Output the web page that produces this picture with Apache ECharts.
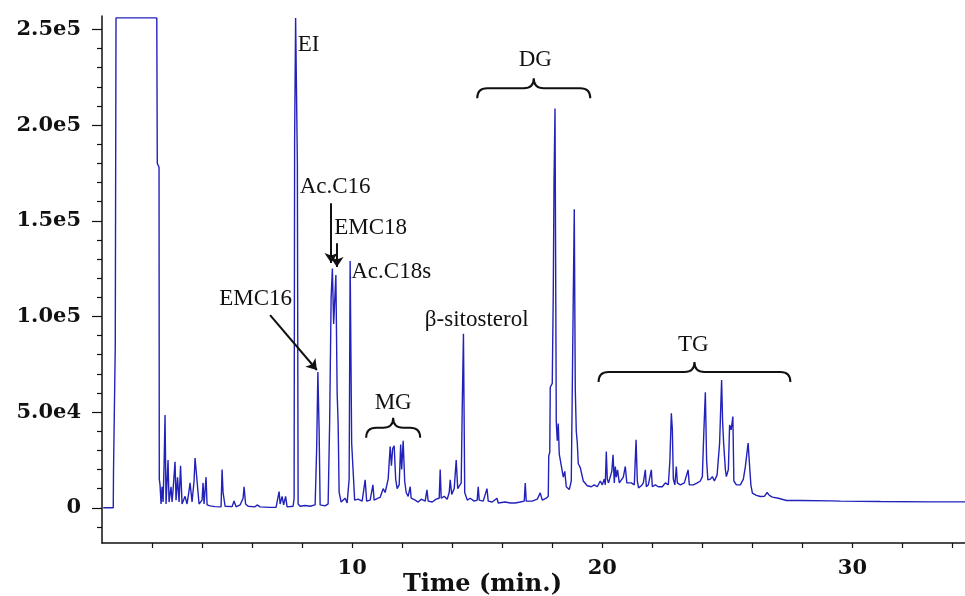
<!DOCTYPE html>
<html>
<head>
<meta charset="utf-8">
<script src="https://cdn.jsdelivr.net/npm/echarts@6/dist/echarts.min.js"></script>
<style>
  html, body { margin: 0; padding: 0; background: #fff; }
  #chart { width: 965px; height: 596px; }
</style>
</head>
<body>
<div id="chart"></div>
<script>
// chromatogram trace as [time (min), intensity]
const solventTrace = [
  [0.05, 0], [0.45, 0], [0.46, 19000], [0.52, 20000], [0.53, 84000], [0.56, 256000],
  [2.19, 256000], [2.21, 180000], [2.28, 178000], [2.29, 15000], [2.32, 12000], [2.36, 2000],
  [2.40, 11000], [2.44, 3000], [2.48, 21000], [2.52, 48500], [2.56, 2000], [2.64, 25000],
  [2.68, 3000], [2.76, 11000], [2.80, 3000], [2.84, 9000], [2.92, 24000], [2.96, 4000],
  [3.02, 16000], [3.08, 3000], [3.14, 22000], [3.20, 2000], [3.32, 6000], [3.40, 2000],
  [3.48, 9000], [3.52, 13000], [3.56, 12000], [3.60, 3000], [3.68, 14000], [3.72, 26000],
  [3.76, 20000], [3.81, 21000], [3.88, 2000], [4.00, 4000], [4.04, 13000], [4.08, 2000],
  [4.16, 16000], [4.20, 1500], [4.32, 1000], [4.52, 600], [4.76, 500], [4.80, 20000],
  [4.84, 8000], [4.92, 800], [5.20, 600], [5.28, 3500], [5.36, 500], [5.52, 1500],
  [5.64, 5000], [5.68, 11000], [5.74, 2000], [5.84, 800], [6.12, 500], [6.20, 1500],
  [6.32, 500], [6.72, 200], [6.96, 300], [7.08, 8500], [7.12, 2000], [7.20, 6000],
  [7.26, 1500], [7.34, 6000], [7.40, 500], [7.64, 800]
];
const esterTrace = [
  [7.68, 5000], [7.70, 192000], [7.74, 256000], [7.78, 256000], [7.81, 180000], [7.84, 2000],
  [7.92, 800], [8.12, 1200], [8.32, 800], [8.52, 1500], [8.58, 30000], [8.63, 71000],
  [8.68, 40000], [8.72, 1500], [8.92, 1000], [9.04, 2000], [9.10, 44000], [9.16, 110000],
  [9.21, 125000], [9.26, 96000], [9.35, 121600], [9.40, 60000], [9.44, 44000], [9.48, 8000],
  [9.56, 3000], [9.72, 5000], [9.80, 2500], [9.88, 15000], [9.92, 129000], [9.98, 34000],
  [10.04, 19000], [10.10, 4000]
];
const mgTrace = [
  [10.24, 4500], [10.40, 3500], [10.52, 14600], [10.58, 3500], [10.72, 4000], [10.83, 12000],
  [10.88, 4000], [11.04, 5000], [11.12, 5500], [11.24, 10000], [11.32, 8000], [11.44, 15000],
  [11.52, 32000], [11.57, 22000], [11.62, 31000], [11.68, 32400], [11.74, 15000], [11.80, 10000],
  [11.88, 12000], [11.94, 33000], [11.98, 20000], [12.04, 35000], [12.10, 14000], [12.16, 8000],
  [12.24, 6000], [12.32, 11000], [12.36, 5000], [12.52, 4000], [12.64, 3000], [12.76, 4500],
  [12.92, 3500], [12.99, 9400], [13.04, 3500], [13.20, 3000], [13.36, 4500], [13.48, 5000],
  [13.52, 20000], [13.56, 5000], [13.68, 6000], [13.80, 4500], [13.88, 8000], [13.92, 14600],
  [13.98, 7000], [14.08, 10000], [14.16, 25000], [14.22, 10000], [14.36, 13000], [14.40, 52000],
  [14.45, 91000], [14.50, 8000], [14.60, 4000], [14.72, 5000], [14.88, 3500], [15.00, 4000],
  [15.04, 11000], [15.08, 4000], [15.24, 3500], [15.39, 10000], [15.44, 3500], [15.60, 3000],
  [15.79, 5000], [15.84, 2500], [16.12, 3000], [16.32, 2500], [16.52, 2500], [16.72, 3000],
  [16.88, 3500], [16.92, 13000], [16.96, 3500], [17.20, 3500], [17.40, 4500], [17.52, 7800],
  [17.60, 4000], [17.76, 5000]
];
const dgTrace = [
  [17.84, 6000], [17.86, 27000], [17.90, 29000], [17.92, 63000], [18.00, 65000], [18.04, 112000],
  [18.07, 170000], [18.11, 208600], [18.14, 112000], [18.16, 45000], [18.20, 35000], [18.24, 44000],
  [18.28, 28000], [18.36, 22000], [18.44, 16000], [18.50, 19000], [18.56, 11000], [18.68, 9500],
  [18.76, 14000], [18.80, 61600], [18.84, 110000], [18.88, 156000], [18.92, 62000], [18.96, 40000],
  [19.00, 34000], [19.04, 23000], [19.12, 21000], [19.24, 14000], [19.40, 11500], [19.56, 11000],
  [19.68, 12000], [19.80, 11000]
];
const tgTrace = [
  [19.92, 14000], [20.00, 12000], [20.08, 15000], [20.12, 12000], [20.16, 29400], [20.20, 15000],
  [20.25, 13000], [20.32, 14000], [20.38, 19000], [20.43, 27700], [20.48, 13000], [20.52, 21600],
  [20.56, 16000], [20.61, 19800], [20.68, 13000], [20.72, 12000], [20.84, 16000], [20.92, 21600],
  [20.98, 13000], [21.04, 12000], [21.16, 13000], [21.28, 12000], [21.35, 35500], [21.40, 14000],
  [21.45, 10400], [21.56, 11500], [21.64, 13000], [21.72, 19800], [21.76, 11000], [21.84, 12000],
  [21.96, 19800], [22.00, 11000], [22.12, 12000], [22.24, 11000], [22.40, 11000], [22.52, 13000],
  [22.64, 12000], [22.70, 24000], [22.76, 49400], [22.80, 41000], [22.84, 15000], [22.90, 12000],
  [22.96, 21600], [23.00, 13000], [23.12, 12000], [23.28, 13000], [23.43, 19800], [23.48, 12000],
  [23.64, 12000], [23.80, 13000], [23.92, 14000], [24.00, 16300], [24.06, 40000], [24.12, 60400],
  [24.17, 25000], [24.22, 14600], [24.32, 15000], [24.40, 16300], [24.48, 14000], [24.59, 17200],
  [24.69, 33800], [24.77, 66800], [24.81, 45000], [24.85, 34000], [24.92, 20000], [24.96, 16300],
  [25.04, 20000], [25.09, 43300], [25.15, 40700], [25.22, 47700], [25.26, 14000], [25.36, 12000],
  [25.52, 12000], [25.64, 15000], [25.72, 21600], [25.83, 33800], [25.89, 21600], [25.94, 12000],
  [26.00, 7700], [26.16, 6500], [26.32, 5900], [26.48, 6000], [26.59, 8000], [26.68, 6500],
  [26.80, 5600], [27.04, 5000]
];
const tailTrace = [
  [27.36, 3800], [27.92, 3800], [29.12, 3600], [29.52, 3500], [31.12, 3300], [33.12, 3100], [34.52, 3100]
];

// axis ticks
const yTickValues = [0, 50000, 100000, 150000, 200000, 250000];
const yTickLabels = ['0', '5.0e4', '1.0e5', '1.5e5', '2.0e5', '2.5e5'];
const yMinorTicks = [-10000, 10000, 20000, 30000, 40000, 60000, 70000, 80000, 90000,
  110000, 120000, 130000, 140000, 160000, 170000, 180000, 190000,
  210000, 220000, 230000, 240000];
const xTickValues = [2, 4, 6, 8, 10, 12, 14, 16, 18, 20, 22, 24, 26, 28, 30, 32, 34];
const xLabelValues = [10, 20, 30];

// peak annotations
const labelText = ['EI', 'Ac.C16', 'EMC18', 'Ac.C18s', 'EMC16', 'β-sitosterol', 'MG', 'DG', 'TG'];
const labelPos = [[8.26, 241700], [9.32, 167600], [10.74, 146400], [11.56, 123200],
  [6.14, 109100], [14.98, 97900], [11.64, 54800], [17.32, 233900], [23.64, 85100]];
const arrowFrom = [[6.72, 100700], [9.16, 159200], [9.39, 138300]];
const arrowTo = [[8.59, 72000], [9.16, 127900], [9.39, 125800]];
const braceStart = [15.0, 10.56, 19.85];
const braceEnd = [19.52, 12.72, 27.52];
const braceLevel = [219200, 41800, 71000];

const trace = [].concat(solventTrace, esterTrace, mgTrace, dgTrace, tgTrace, tailTrace);

const axisFont = { fontFamily: '"DejaVu Serif", serif', fontWeight: 'bold', fontSize: 21, color: '#111' };
const noteFont = '23px "Liberation Serif", "Times New Roman", serif';

const chart = echarts.init(document.getElementById('chart'));

function bracePath(x0, x1, y, d) {
  const xm = (x0 + x1) / 2;
  return `M${x0},${y + d} Q${x0},${y} ${x0 + d},${y} L${xm - d},${y} Q${xm},${y} ${xm},${y - d}` +
    ` Q${xm},${y} ${xm + d},${y} L${x1 - d},${y} Q${x1},${y} ${x1},${y + d}`;
}

const option = {
  animation: false,
  backgroundColor: '#fff',
  title: {
    text: 'Time (min.)',
    left: 'center',
    top: 568,
    textStyle: { fontFamily: '"DejaVu Serif", serif', fontWeight: 'bold', fontSize: 24, color: '#111' }
  },
  grid: { left: 102, right: 0, top: 16, bottom: 53, outerBoundsMode: 'none' },
  xAxis: {
    type: 'value',
    min: 0,
    max: 34.5,
    splitLine: { show: false },
    axisLine: { onZero: false, lineStyle: { color: '#111', width: 1.5 } },
    axisTick: { customValues: xTickValues, length: 5, lineStyle: { color: '#111', width: 1.2 } },
    axisLabel: { customValues: xLabelValues, margin: 15, ...axisFont }
  },
  yAxis: [
    {
      type: 'value',
      position: 'left',
      min: -18400,
      max: 257000,
      splitLine: { show: false },
      axisLine: { show: true, lineStyle: { color: '#111', width: 1.5 } },
      axisTick: { customValues: yTickValues, length: 10, lineStyle: { color: '#111', width: 1.2 } },
      axisLabel: {
        customValues: yTickValues,
        margin: 21,
        formatter: (v) => yTickLabels[yTickValues.indexOf(v)] ?? '',
        ...axisFont
      }
    },
    {
      type: 'value',
      position: 'left',
      min: -18400,
      max: 257000,
      splitLine: { show: false },
      axisLine: { show: false },
      axisTick: { customValues: yMinorTicks, length: 5, lineStyle: { color: '#111', width: 1.2 } },
      axisLabel: { show: false }
    }
  ],
  series: [
    {
      type: 'line',
      data: trace,
      showSymbol: false,
      symbol: 'none',
      sampling: null,
      lineStyle: { color: '#2222bb', width: 1.4 },
      markLine: {
        silent: true,
        symbol: ['none', 'arrow'],
        symbolSize: 10,
        label: { show: false },
        lineStyle: { color: '#111', width: 2, type: 'solid' },
        data: arrowFrom.map((p, i) => [{ coord: p }, { coord: arrowTo[i] }])
      }
    },
    {
      type: 'custom',
      data: braceStart.map((t, i) => [t, braceLevel[i]]),
      renderItem: (params, api) => {
        const i = params.dataIndex;
        const a = api.coord([braceStart[i], braceLevel[i]]);
        const b = api.coord([braceEnd[i], braceLevel[i]]);
        return {
          type: 'path',
          shape: { pathData: bracePath(a[0], b[0], a[1], 10) },
          style: { stroke: '#111', lineWidth: 2, fill: 'none' }
        };
      },
      silent: true
    },
    {
      type: 'custom',
      data: labelPos,
      renderItem: (params, api) => {
        const i = params.dataIndex;
        const p = api.coord(labelPos[i]);
        return {
          type: 'text',
          x: p[0],
          y: p[1],
          style: { text: labelText[i], font: noteFont, fill: '#111', align: 'center', verticalAlign: 'middle' }
        };
      },
      silent: true
    }
  ]
};

chart.setOption(option);
window.addEventListener('resize', () => chart.resize());
</script>
</body>
</html>
